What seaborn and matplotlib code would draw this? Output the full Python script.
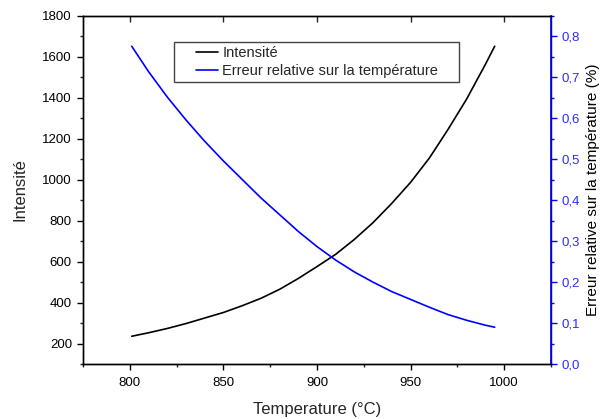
import numpy as np
import pandas as pd
import matplotlib
matplotlib.use('Agg')
import matplotlib.pyplot as plt
import seaborn as sns
from matplotlib.ticker import MultipleLocator, FuncFormatter
from matplotlib.lines import Line2D
from matplotlib.patches import Rectangle
from matplotlib.legend_handler import HandlerLine2D

# values
temperature = [801, 810, 820, 830, 840, 850, 860, 870, 880, 890, 900, 910,
               920, 930, 940, 950, 960, 970, 980, 990, 995]
intensite = [236, 253, 274, 298, 325, 352, 385, 421, 465, 518, 576, 636,
             709, 791, 885, 987, 1105, 1245, 1394, 1563, 1652]
erreur = [0.776, 0.714, 0.652, 0.596, 0.544, 0.496, 0.451, 0.406, 0.365, 0.324, 0.287, 0.254,
          0.225, 0.200, 0.177, 0.158, 0.139, 0.121, 0.107, 0.095, 0.090]

df = pd.DataFrame({'T': temperature, 'I': intensite, 'err': erreur})

sns.set_theme(style='white')
plt.rcParams['font.family'] = ['Liberation Sans', 'DejaVu Sans']

fig = plt.figure(figsize=(6.02, 4.19), dpi=100)
ax = fig.add_axes([0.138, 0.131, 0.777, 0.831])
ax2 = ax.twinx()

sns.lineplot(data=df, x='T', y='I', ax=ax, color='black', lw=1.2, label='Intensité', legend=False)
sns.lineplot(data=df, x='T', y='err', ax=ax2, color='#0000ff', lw=1.2,
             label='Erreur relative sur la température', legend=False)

ax.set_xlim(775, 1025)
ax.set_ylim(100, 1800)
ax2.set_ylim(0, 0.85)

ax.xaxis.set_major_locator(MultipleLocator(50))
ax.xaxis.set_minor_locator(MultipleLocator(25))
ax.yaxis.set_major_locator(MultipleLocator(200))
ax.yaxis.set_minor_locator(MultipleLocator(100))
ax2.yaxis.set_major_locator(MultipleLocator(0.1))
ax2.yaxis.set_minor_locator(MultipleLocator(0.05))
ax2.yaxis.set_major_formatter(FuncFormatter(lambda v, p: f'{v:.1f}'.replace('.', ',')))

for a in (ax, ax2):
    for s in a.spines.values():
        s.set_color('black')
        s.set_linewidth(1.0)
ax2.spines['right'].set_color('#0000ff')
ax2.spines['right'].set_linewidth(1.2)

ax.tick_params(axis='both', which='major', direction='out', length=4.5, width=1,
               labelsize=9.5, colors='black', left=True, bottom=True, pad=3.5)
ax.tick_params(axis='both', which='minor', direction='out', length=2.5, width=1,
               left=True, bottom=True)
ax.tick_params(axis='x', pad=5)
ax2.tick_params(axis='y', which='major', direction='out', length=4.5, width=1,
                labelsize=9.5, colors='#0000ff', labelcolor='#2b2bff', pad=3)
ax2.tick_params(axis='y', which='minor', direction='out', length=2.5, width=1, colors='#0000ff')

top = ax.secondary_xaxis('top')
top.xaxis.set_major_locator(MultipleLocator(50))
top.tick_params(direction='in', length=4.5, width=1, labeltop=False, top=True)
top.spines['top'].set_visible(False)

ax.set_xlabel('Temperature (°C)', fontsize=12, labelpad=9)
ax.set_ylabel('Intensité', fontsize=12, labelpad=11)
ax2.set_ylabel('Erreur relative sur la température (%)', fontsize=11, labelpad=4.5, color='black')


class PaddedLine(HandlerLine2D):
    # draw the legend line only on the right half of the handle box
    def create_artists(self, legend, orig_handle, xdescent, ydescent, width, height, fontsize, trans):
        arts = super().create_artists(legend, orig_handle, xdescent, ydescent, width, height, fontsize, trans)
        for a in arts:
            xd = np.asarray(a.get_xdata(), dtype=float)
            if len(xd) >= 2:
                a.set_xdata(np.linspace(xd[0] + (xd[-1] - xd[0]) * 0.5, xd[-1], len(xd)))
        return arts


h1, l1 = ax.get_legend_handles_labels()
h2, l2 = ax2.get_legend_handles_labels()
# anchor at pixel (174, 46) of the figure
anchor = ax.transAxes.inverted().transform(fig.transFigure.transform((174 / 602, 1 - 46 / 419)))
leg = ax.legend(h1 + h2, l1 + l2, loc='upper left', bbox_to_anchor=tuple(anchor),
                fontsize=10.5, frameon=False, handlelength=3.0, handletextpad=0.3,
                borderpad=0, labelspacing=0.28, borderaxespad=0,
                handler_map={Line2D: PaddedLine()})
leg.set_zorder(5)

fig.canvas.draw()
bb = leg.get_window_extent()
x0, y0 = bb.x0, bb.y0 - 4
x1, y1 = bb.x1 + 21, bb.y1 + 4
fx0, fy0 = fig.transFigure.inverted().transform((x0, y0))
fx1, fy1 = fig.transFigure.inverted().transform((x1, y1))
fig.patches.append(Rectangle((fx0, fy0), fx1 - fx0, fy1 - fy0, transform=fig.transFigure,
                             fill=False, edgecolor='#444444', lw=1.0, zorder=6))

fig.savefig('out.png', dpi=100)
